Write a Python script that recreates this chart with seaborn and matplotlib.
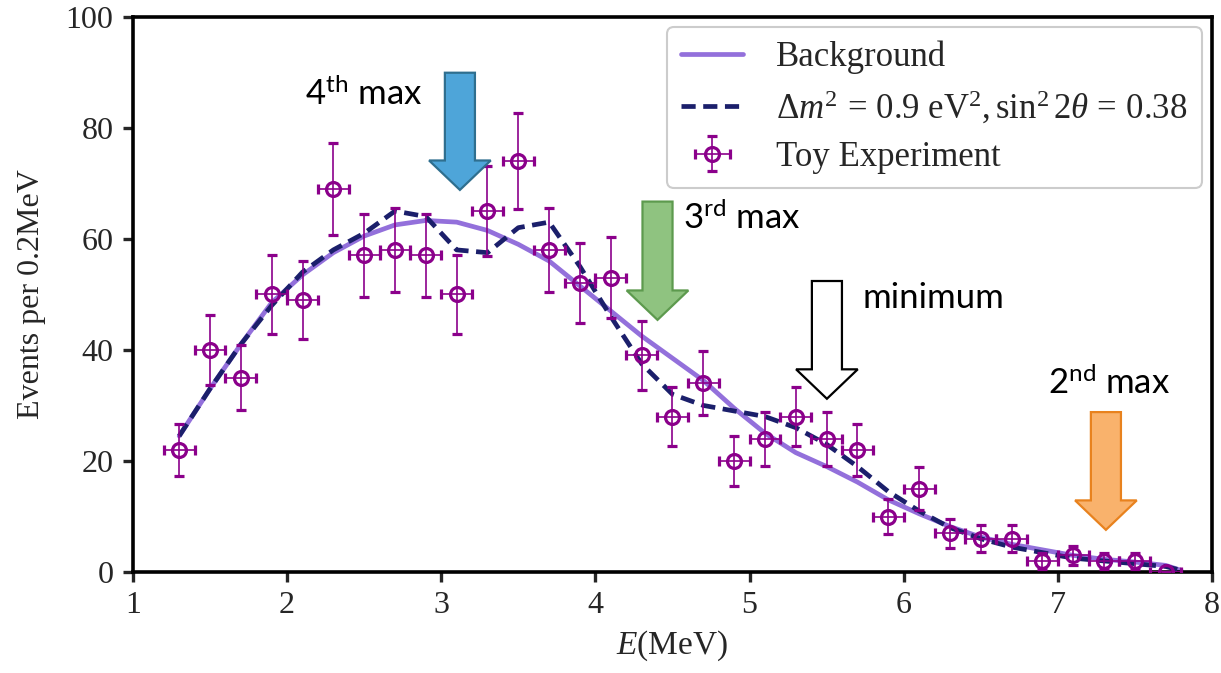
import numpy as np
import pandas as pd
import matplotlib
matplotlib.use("Agg")
import matplotlib.pyplot as plt
import seaborn as sns
from matplotlib.patches import FancyArrow

# ---------------- data ----------------
energy = [1.3, 1.5, 1.7, 1.9, 2.1, 2.3, 2.5, 2.7, 2.9, 3.1, 3.3, 3.5, 3.7, 3.9, 4.1,
          4.3, 4.5, 4.7, 4.9, 5.1, 5.3, 5.5, 5.7, 5.9, 6.1, 6.3, 6.5, 6.7, 6.9, 7.1,
          7.3, 7.5, 7.7]
events = [22, 40, 35, 50, 49, 69, 57, 58, 57, 50, 65, 74, 58, 52, 53,
          39, 28, 34, 20, 24, 28, 24, 22, 10, 15, 7, 6, 6, 2, 3,
          2, 2, 0]
events_err = [4.7, 6.3, 5.9, 7.1, 7.0, 8.3, 7.5, 7.6, 7.5, 7.1, 8.1, 8.6, 7.6, 7.2, 7.3,
              6.2, 5.3, 5.8, 4.5, 4.9, 5.3, 4.9, 4.7, 3.2, 3.9, 2.6, 2.4, 2.4, 1.4, 1.7,
              1.4, 1.4, 0.0]
energy_halfbin = [0.1] * 33

curve_energy = [1.3, 1.5, 1.7, 1.9, 2.1, 2.3, 2.5, 2.7, 2.9, 3.1, 3.3, 3.5, 3.7, 3.9, 4.1,
                4.3, 4.5, 4.7, 4.9, 5.1, 5.3, 5.5, 5.7, 5.9, 6.1, 6.3, 6.5, 6.7, 6.9, 7.1,
                7.3, 7.5, 7.7, 7.8]
background = [24.5, 33, 41, 48.5, 53.5, 57.5, 60.5, 62.5, 63.3, 63, 61.5, 59, 56, 51.5, 47,
              42.5, 38.5, 34.5, 29.5, 25, 21.5, 19, 16.2, 13, 10.5, 8.2, 6.3, 5, 4, 3,
              2.3, 1.8, 1.2, 0.3]
oscillation = [24.5, 33, 41, 48, 54, 58, 61, 65, 64, 58, 57.5, 62, 63, 55, 46,
               37.5, 32, 30, 29, 28, 26, 23, 19, 14.5, 11, 8, 6, 4.5, 3.5, 2.5,
               2, 1.5, 1, 0.3]

x_ticks = [1, 2, 3, 4, 5, 6, 7, 8]
y_ticks = [0, 20, 40, 60, 80, 100]

labels = ["Background",
          r"$\Delta m^2 \,=\, 0.9\ \mathrm{eV}^2, \sin^2 2\theta \,=\, 0.38$",
          "Toy Experiment"]

# ---------------- style ----------------
sns.set_style("white")
plt.rcParams["font.family"] = ["Liberation Serif", "DejaVu Serif"]
plt.rcParams["mathtext.fontset"] = "custom"
plt.rcParams["mathtext.rm"] = "Liberation Serif"
plt.rcParams["mathtext.it"] = "Liberation Serif:italic"
plt.rcParams["mathtext.sf"] = "Lato"

fig = plt.figure(figsize=(12.21, 6.73), dpi=100)
ax = fig.add_axes([0.1089, 0.150, 0.8837, 0.8253])

df_curves = pd.DataFrame({"E": curve_energy, "bg": background, "osc": oscillation})

sns.lineplot(data=df_curves, x="E", y="bg", ax=ax, color="#9370DB", lw=3.4,
             label=labels[0], zorder=2)
sns.lineplot(data=df_curves, x="E", y="osc", ax=ax, color="#1B1F6B", lw=3.4,
             label=labels[1], zorder=3)
ax.lines[-1].set_dashes([3.0, 1.6])

eb = ax.errorbar(energy, events, yerr=events_err, xerr=energy_halfbin, fmt="o",
                 mfc="none", mec="#8B008B", mew=2.3, ms=10, ecolor="#8B008B",
                 elinewidth=1.2, capsize=3.5, capthick=3.0, label=labels[2], zorder=4)

ax.set_xlim(1, 8)
ax.set_ylim(0, 100)
ax.set_xticks(x_ticks)
ax.set_yticks(y_ticks)
ax.set_xlabel(r"$E$(MeV)", fontsize=24, labelpad=6)
ax.set_ylabel("Events per 0.2MeV", fontsize=23, labelpad=14)
ax.tick_params(axis="both", which="major", labelsize=23, length=7, width=2.4,
               direction="out", bottom=True, left=True, top=False, right=False, pad=7)
for sp in ax.spines.values():
    sp.set_visible(True)
    sp.set_linewidth(2.6)
    sp.set_color("black")

handles, labs = ax.get_legend_handles_labels()
order = [labs.index(l) for l in labels]
leg = ax.legend([handles[i] for i in order], [labs[i] for i in order],
                loc="upper right", fontsize=25, frameon=True, fancybox=True,
                edgecolor="#CCCCCC", framealpha=1.0, handlelength=1.8,
                borderaxespad=0.3, labelspacing=0.42, handletextpad=0.95,
                borderpad=0.4)
leg.get_frame().set_linewidth(1.5)

# ---------------- annotation arrows ----------------
arrows = [
    (3.121, 89.9, 21.1, "#4EA5D9", "#2F6F8F"),
    (4.403, 66.7, 21.3, "#8FC380", "#5D9A4E"),
    (5.502, 52.4, 21.2, "#FFFFFF", "#000000"),
    (7.312, 28.8, 21.2, "#F9B26C", "#E8821E"),
]
for xc, ytop, length, fc, ec in arrows:
    ax.add_patch(FancyArrow(xc, ytop, 0, -length, width=0.195, head_width=0.40,
                            head_length=5.3, length_includes_head=True,
                            facecolor=fc, edgecolor=ec, linewidth=1.6, zorder=6))

ann_font = dict(family=["Lato", "DejaVu Sans"], fontsize=25, color="black", zorder=7)
ax.text(2.116, 86.0, r"4$^{\mathsf{th}}$ max", ha="left", va="center", **ann_font)
ax.text(4.568, 63.8, r"3$^{\mathsf{rd}}$ max", ha="left", va="center", **ann_font)
ax.text(5.73, 49.3, "minimum", ha="left", va="center", **ann_font)
ax.text(6.936, 34.0, r"2$^{\mathsf{nd}}$ max", ha="left", va="center", **ann_font)

fig.savefig("out.png", dpi=100)
